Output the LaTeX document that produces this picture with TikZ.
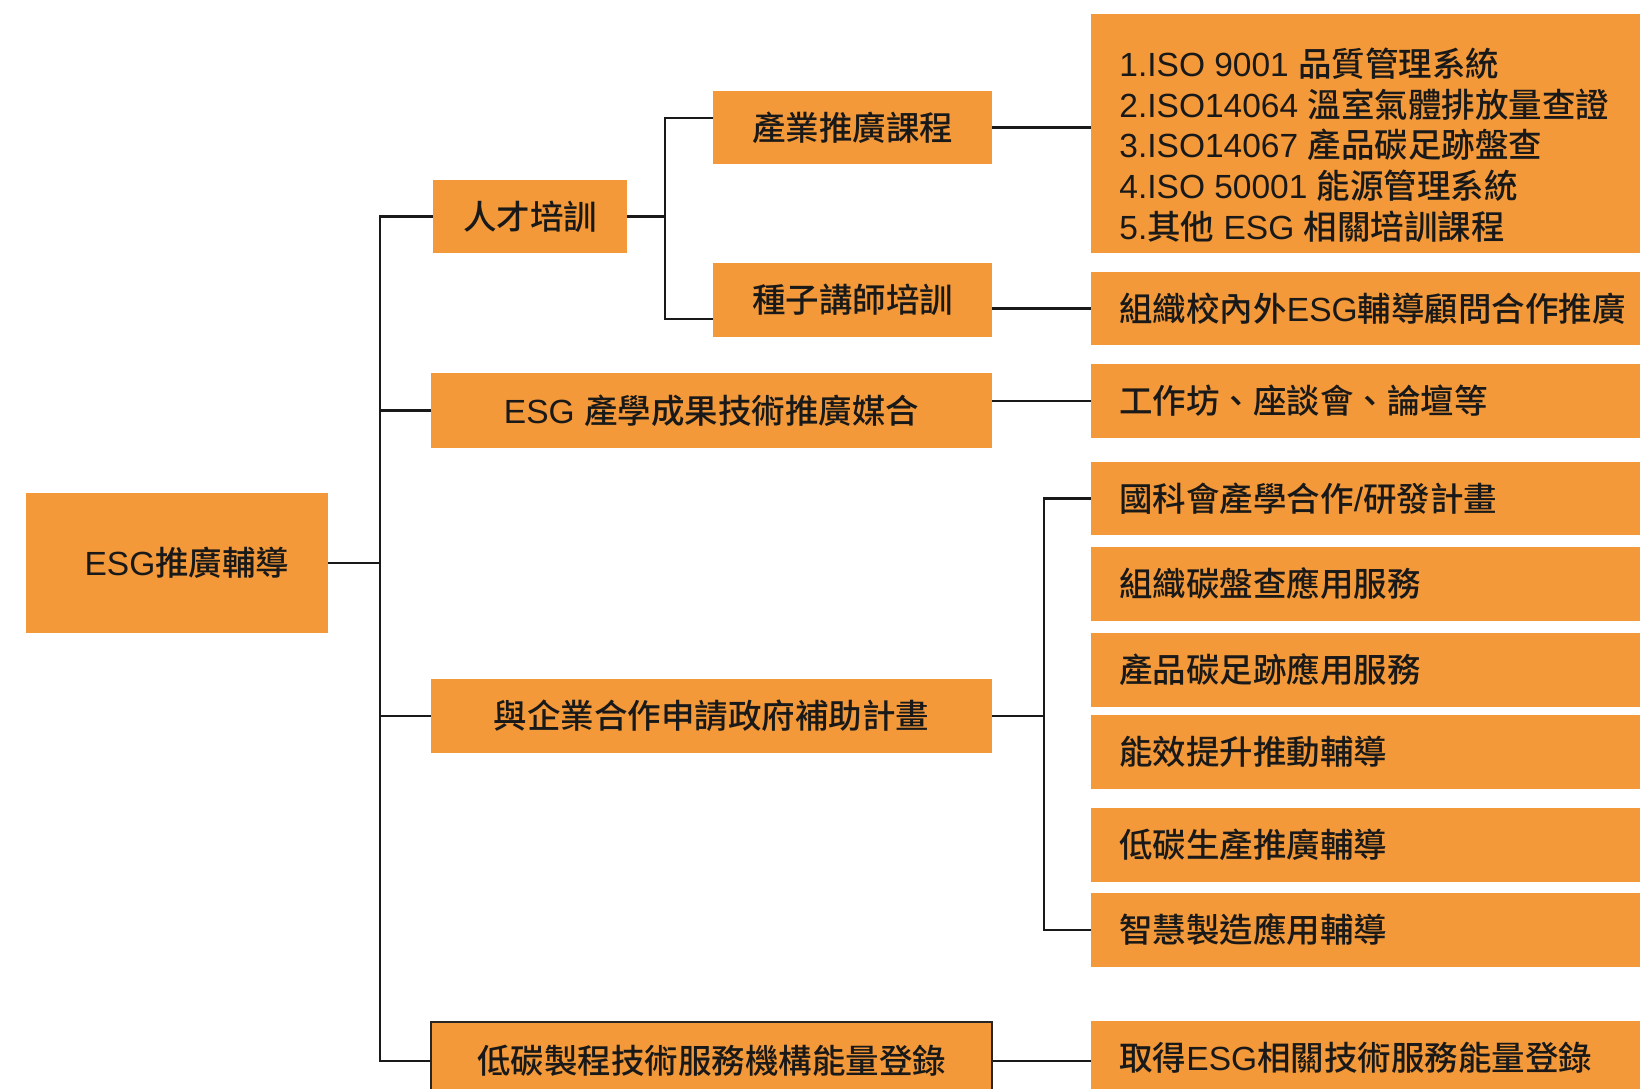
\documentclass[tikz,border=0pt]{standalone}
\usepackage{fontspec}
\setmainfont{Noto Sans CJK TC Medium}
\newfontfamily\lat{Liberation Sans}
\usetikzlibrary{calc}
\definecolor{boxorange}{RGB}{243,153,58}
\definecolor{ink}{RGB}{25,25,25}
\begin{document}
\begin{tikzpicture}[x=0.5pt,y=-0.5pt,
  box/.style={fill=boxorange, draw=none, inner sep=0pt, text=ink,
    font=\fontsize{16.75pt}{20.35pt}\selectfont},
  cbox/.style={box, anchor=west, text width=256.5pt, inner xsep=14pt, inner ysep=0pt, align=left},
  link/.style={draw=ink, line width=1.2pt}]
\useasboundingbox (0,0) rectangle (1640,1088);
\clip (0,0) rectangle (1640,1088);
\fill[white] (0,0) rectangle (1640,1088);

% root
\node[box, minimum width=151pt, minimum height=70pt] (root) at (177,563) {\hspace*{10pt}{\lat ESG}推廣輔導};

% second level
\node[box, minimum width=97pt, minimum height=36.5pt] (A1) at (530,216.5) {人才培訓};
\node[box, minimum width=280.5pt, minimum height=37.5pt] (A2) at (711.5,410.5) {{\lat ESG }產學成果技術推廣媒合};
\node[box, minimum width=280.5pt, minimum height=37pt] (A3) at (711.5,716) {與企業合作申請政府補助計畫};
\node[box, minimum width=280.5pt, minimum height=39pt, draw=black!85, line width=1pt] (A4) at (711.5,1061) {低碳製程技術服務機構能量登錄};

% third level
\node[box, minimum width=139.5pt, minimum height=36.5pt] (B1) at (852.5,127.5) {產業推廣課程};
\node[box, minimum width=139.5pt, minimum height=37pt] (B2) at (852.5,300) {種子講師培訓};

% right column
\node[cbox, minimum height=119.5pt] (C1) at (1091,133.5) {};
\node[anchor=west, inner sep=0pt, align=left, text=ink,
  font=\fontsize{16.75pt}{20.35pt}\selectfont] (C1t) at (1119,145)
  {{\lat 1.ISO 9001 }品質管理系統\\
   {\lat 2.ISO14064 }溫室氣體排放量查證\\
   {\lat 3.ISO14067 }產品碳足跡盤查\\
   {\lat 4.ISO 50001 }能源管理系統\\
   {\lat 5.}其他{\lat\ ESG }相關培訓課程};
\node[cbox, minimum height=36.5pt] (C2) at (1091,308.5) {組織校內外{\lat ESG}輔導顧問合作推廣};
\node[cbox, minimum height=37pt] (C3) at (1091,401) {工作坊、座談會、論壇等};
\node[cbox, minimum height=36.5pt] (C4) at (1091,498.5) {國科會產學合作{\lat /}研發計畫};
\node[cbox, minimum height=37pt] (C5) at (1091,584) {組織碳盤查應用服務};
\node[cbox, minimum height=37pt] (C6) at (1091,670) {產品碳足跡應用服務};
\node[cbox, minimum height=37pt] (C7) at (1091,752) {能效提升推動輔導};
\node[cbox, minimum height=37pt] (C8) at (1091,845) {低碳生產推廣輔導};
\node[cbox, minimum height=37pt] (C9) at (1091,930) {智慧製造應用輔導};
\node[cbox, minimum height=37pt] (C10) at (1091,1058) {取得{\lat ESG}相關技術服務能量登錄};

% junctions
\coordinate (jA) at (380,600);
\coordinate (jC) at (665,200);
\coordinate (jB) at (1044,700);
\coordinate (b1in) at ($(B1.north west)!0.37!(B1.south west)$);
\coordinate (b2in) at ($(B2.north west)!0.757!(B2.south west)$);

% connectors
\draw[link] (root.east) -- (root.east -| jA);
\draw[link] (A1.west) -| (jA) |- (A4.west);
\draw[link] (A2.west) -- (A2.west -| jA);
\draw[link] (A3.west) -- (A3.west -| jA);
\draw[link] (A1.east) -- (A1.east -| jC);
\draw[link] (b1in) -| (jC) |- (b2in);
\draw[link] (B1.east) -- (B1.east -| C1.west);
\draw[link] (C2.west) -- (C2.west -| B2.east);
\draw[link] (C3.west) -- (C3.west -| A2.east);
\draw[link] (A3.east) -- (A3.east -| jB);
\draw[link] (C4.west) -| (jB) |- (C9.west);
\draw[link] (A4.east) -- (A4.east -| C10.west);
\end{tikzpicture}
\end{document}
